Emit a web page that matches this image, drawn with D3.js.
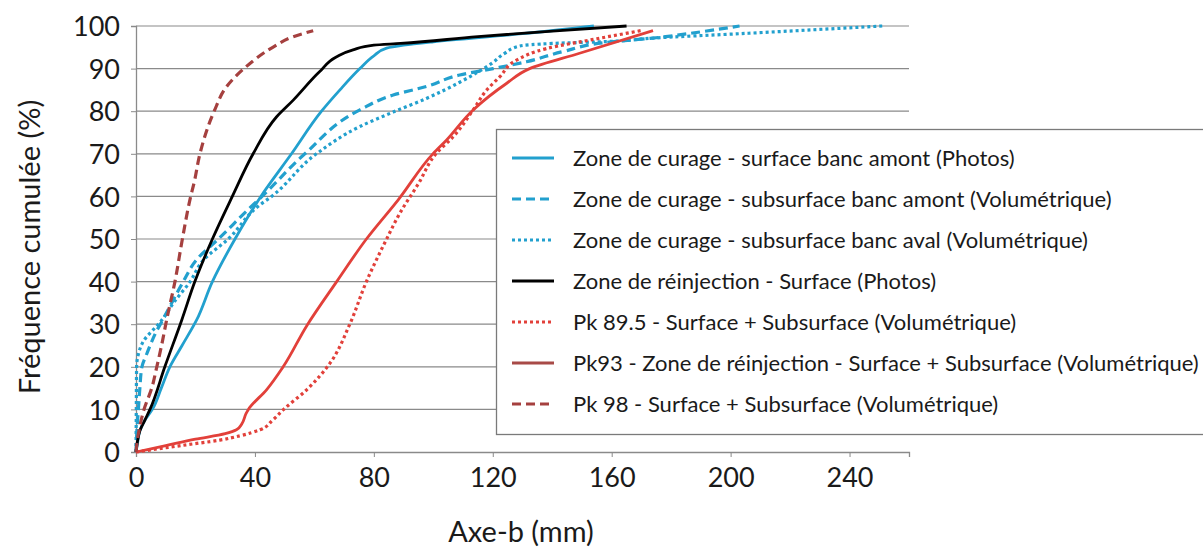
<!DOCTYPE html>
<html><head><meta charset="utf-8">
<script src="https://cdn.jsdelivr.net/npm/d3@7"></script>
<style>body{margin:0;background:#fff}svg{display:block}text{font-family:Lato,"Open Sans",sans-serif;fill:#1a1a1a}</style>
</head><body><svg id="c" width="1203" height="549"></svg>
<script>
const xTicks = [0, 40, 80, 120, 160, 200, 240];
const yTicks = [0, 10, 20, 30, 40, 50, 60, 70, 80, 90, 100];
const xTitle = "Axe-b (mm)";
const yTitle = "Fréquence cumulée (%)";

const curageSurface = [[0,0],[0.5,2],[1.3,5],[3,7.5],[5.5,10],[8.5,15],[11.4,20],[15.5,25],[20.4,31],[25.7,40],[33.3,50],[42,60],[52.3,70],[62.4,80],[68.6,85],[75.3,90],[80,93],[84.3,94.8],[90,95.5],[100,96.3],[130,98.2],[154,100]];
const curageSubAmont = [[0,0],[0.3,5],[0.8,10],[1.3,15],[2,20],[3.6,23],[7,28.5],[9,31],[12,35],[15.9,40],[20.2,45],[27.7,50],[38.9,57.7],[42.4,60],[56.8,70],[75.3,80.3],[86.5,83.8],[97.7,85.8],[108.9,88.5],[120.1,90],[131.3,91.6],[143.6,94],[160,96.3],[173,97.1],[190.7,98.7],[203,100]];
const curageSubAval = [[0,0],[0.1,10],[0.2,20],[0.8,23],[2.5,26],[7.5,30],[8.7,31],[12.6,35],[18.2,40],[22.6,45],[31,50],[41.1,57.7],[45.6,60],[60.7,70],[75.3,76.4],[86.5,79.8],[97.7,83],[108.9,86.8],[114.5,89],[120,91.4],[124,93.6],[129,95.3],[140,95.9],[160,96.4],[172.8,97.1],[206,98.3],[251,100]];
const reinjSurface = [[0,0],[0.5,2.5],[1.3,5],[3,7.5],[4.7,10],[9.7,20],[15.4,31],[19.8,40],[25.7,50],[32.4,60],[39.4,70],[47.3,78.7],[52.9,82.6],[61.8,89.3],[67.5,92.8],[73,94.4],[80,95.5],[89,95.9],[115,97.5],[140,98.8],[165,100]];
const pk895 = [[0,0],[15,1.5],[28.2,2.8],[35,3.8],[41.7,5.2],[46,7.5],[49.5,9.9],[57.4,14.6],[65.2,20.8],[71.9,30],[77.5,40],[84.3,50],[88.7,56],[95,63],[101,70.1],[106.7,74],[113.4,80.3],[118,85],[122.4,88.1],[128,92],[138,94.7],[155,97],[170.5,99]];
const pk93 = [[0,0],[10,1.5],[20,3],[30,4.3],[33.8,5.2],[35.5,6.5],[37,9],[37.8,10],[43.9,14.6],[49.5,20],[57.4,29.6],[67.5,40],[77.5,50],[88.2,59.2],[100,70.1],[104.4,73.2],[113.4,80.3],[124.6,86.5],[132.4,90],[149.2,93.6],[173.9,98.9]];
const pk98 = [[0,0],[0.5,3],[1,5],[2.7,10],[5.3,15],[7,20],[8.6,25],[10.3,31],[13.1,40],[15.6,50],[18.4,60],[19.6,63.4],[21.5,70],[26.3,80],[30.5,85.8],[36.3,90],[46,95],[52.9,97.5],[59.6,98.9]];

const seriesNames = [
 "Zone de curage - surface banc amont (Photos)",
 "Zone de curage - subsurface banc amont (Volumétrique)",
 "Zone de curage - subsurface banc aval (Volumétrique)",
 "Zone de réinjection - Surface (Photos)",
 "Pk 89.5 - Surface + Subsurface (Volumétrique)",
 "Pk93 - Zone de réinjection - Surface + Subsurface (Volumétrique)",
 "Pk 98 - Surface + Subsurface (Volumétrique)"
];
const seriesData = [curageSurface, curageSubAmont, curageSubAval, reinjSurface, pk895, pk93, pk98];

const styles = [
 {color:"#22A0CE", dash:null, w:2.8},
 {color:"#22A0CE", dash:"9,5", w:3.2},
 {color:"#22A0CE", dash:"3,3", w:3.2},
 {color:"#000000", dash:null, w:2.8},
 {color:"#E2403A", dash:"3,3", w:3.2},
 {color:"#E2403A", dash:null, w:2.8, legend:"#A84A47"},
 {color:"#A5403F", dash:"9,5", w:3.2}
];

const svg = d3.select("#c");
const x = d3.scaleLinear().domain([0,260]).range([136,909]);
const y = d3.scaleLinear().domain([0,100]).range([452,26]);

svg.append("g").selectAll("line").data(yTicks.filter(d=>d>0)).join("line")
 .attr("x1",x(0)).attr("x2",x(260)).attr("y1",d=>y(d)).attr("y2",d=>y(d))
 .attr("stroke","#8a8a8a").attr("stroke-width",1.2);

const xAxis = svg.append("g").attr("transform",`translate(0,${y(0)})`)
 .call(d3.axisBottom(x).tickValues(xTicks).tickSize(5).tickPadding(6).tickFormat(d3.format("d")));
const yAxis = svg.append("g").attr("transform",`translate(${x(0)},0)`)
 .call(d3.axisLeft(y).tickValues(yTicks).tickSize(5).tickPadding(11).tickFormat(d3.format("d")));
[xAxis,yAxis].forEach(g=>{
 g.select(".domain").attr("stroke","#8a8a8a").attr("stroke-width",1.3);
 g.selectAll(".tick line").attr("stroke","#8a8a8a");
 g.selectAll(".tick text").attr("font-size",27).attr("fill","#1a1a1a").attr("font-family","Lato");
});
xAxis.selectAll(".tick text").attr("dy","0.9em");
yAxis.selectAll(".tick text").attr("dy","0.36em");

const line = d3.line().x(d=>x(d[0])).y(d=>y(d[1])).curve(d3.curveMonotoneY);
svg.append("g").selectAll("path").data(seriesData).join("path")
 .attr("d",line).attr("fill","none")
 .attr("stroke",(d,i)=>styles[i].color)
 .attr("stroke-width",(d,i)=>styles[i].w)
 .attr("stroke-dasharray",(d,i)=>styles[i].dash);

svg.append("text").attr("x",521).attr("y",542).attr("text-anchor","middle")
 .attr("font-size",29).text(xTitle);
svg.append("text").attr("transform","translate(40,247) rotate(-90)").attr("text-anchor","middle")
 .attr("font-size",29).text(yTitle);

const lg = svg.append("g");
lg.append("rect").attr("x",496.5).attr("y",129.5).attr("width",720).attr("height",305)
 .attr("fill","#fff").attr("stroke","#7a7a7a").attr("stroke-width",1.3);
const rows = lg.selectAll("g.row").data(seriesNames).join("g").attr("class","row")
 .attr("transform",(d,i)=>`translate(0,${158+i*41})`);
rows.append("line").attr("x1",512).attr("x2",554).attr("y1",0).attr("y2",0)
 .attr("stroke",(d,i)=>styles[i].legend||styles[i].color)
 .attr("stroke-width",(d,i)=>styles[i].w)
 .attr("stroke-dasharray",(d,i)=>styles[i].dash);
rows.append("text").attr("x",573).attr("y",0).attr("dy","0.35em")
 .attr("font-size",22).text(d=>d);
</script></body></html>
